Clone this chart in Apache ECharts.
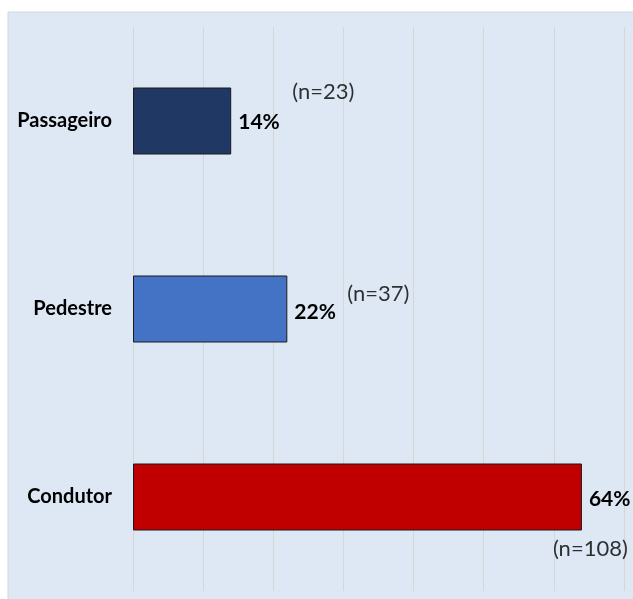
<!DOCTYPE html>
<html>
<head>
<meta charset="utf-8">
<script src="https://cdn.jsdelivr.net/npm/echarts@6/dist/echarts.min.js"></script>
<style>
html,body{margin:0;padding:0;background:#fff;}
#chart{width:633px;height:599px;}
</style>
</head>
<body>
<div id="chart"></div>
<script>
var categories = ['Condutor', 'Pedestre', 'Passageiro'];
var percentValues = [64, 22, 14];
var nCounts = [108, 37, 23];
var barColors = ['#c00000', '#4472c4', '#1f3864'];
var xTicks = [0, 10, 20, 30, 40, 50, 60, 70];

var nLabelOffsets = [[-29, 52], [60, -15], [61, -29]];
var pctLabelOffsets = [[0, 2], [0, 3], [0, 1]];

var chart = echarts.init(document.getElementById('chart'), null, {renderer: 'canvas'});

var barData = percentValues.map(function (v, i) {
  return {
    value: v,
    itemStyle: {color: barColors[i], borderColor: '#1a1a1a', borderWidth: 1},
    label: {offset: pctLabelOffsets[i]}
  };
});

var nData = percentValues.map(function (v, i) {
  return {
    value: [v, categories[i]],
    label: {offset: nLabelOffsets[i], formatter: '(n=' + nCounts[i] + ')'}
  };
});

chart.setOption({
  backgroundColor: '#ffffff',
  animation: false,
  graphic: [{
    type: 'rect',
    z: -10,
    shape: {x: 8, y: 12, width: 632, height: 594},
    style: {fill: '#dde8f4', stroke: '#d6d6d6', lineWidth: 1}
  }],
  grid: {left: 133, right: 9, top: 27, bottom: 8, containLabel: false},
  xAxis: {
    type: 'value',
    min: xTicks[0],
    max: xTicks[xTicks.length - 1],
    interval: xTicks[1] - xTicks[0],
    axisLabel: {show: false},
    axisLine: {show: false},
    axisTick: {show: false},
    splitLine: {show: true, lineStyle: {color: '#d6d6d6', width: 1}}
  },
  yAxis: {
    type: 'category',
    data: categories,
    axisLine: {show: false},
    axisTick: {show: false},
    axisLabel: {
      margin: 21,
      color: '#000',
      fontFamily: 'Lato',
      fontWeight: 'bold',
      fontSize: 20
    }
  },
  series: [{
    type: 'bar',
    data: barData,
    barWidth: 67,
    label: {
      show: true,
      position: 'right',
      distance: 7,
      formatter: '{c}%',
      color: '#000',
      fontFamily: 'Lato',
      fontWeight: 'bold',
      fontSize: 21
    }
  }, {
    type: 'scatter',
    data: nData,
    symbolSize: 0,
    silent: true,
    label: {
      show: true,
      position: 'right',
      distance: 0,
      color: '#000',
      fontFamily: 'Lato',
      fontSize: 22
    }
  }]
});
</script>
</body>
</html>
